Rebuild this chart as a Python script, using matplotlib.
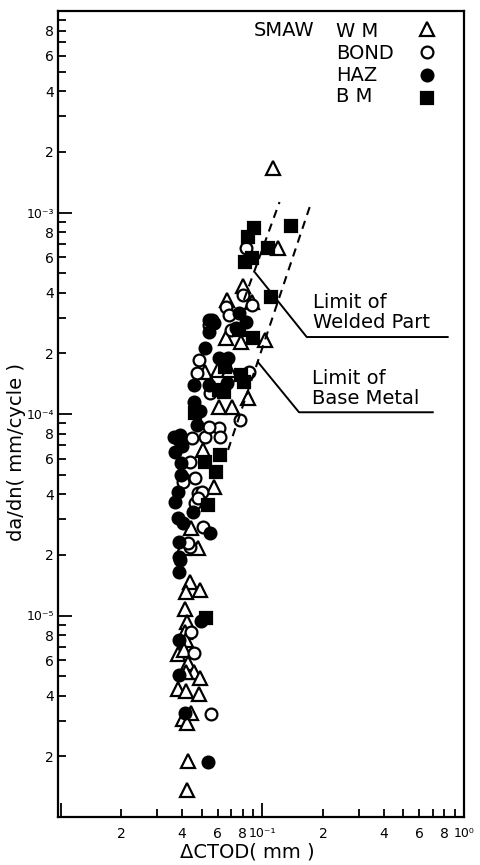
import numpy as np
import matplotlib
matplotlib.use('Agg')
import matplotlib.pyplot as plt
from matplotlib.ticker import LogLocator, FuncFormatter

plt.rcParams['font.family'] = ['DejaVu Sans']

# SMAW weld metal (open triangles)
wm_x = [0.113, 0.120, 0.080, 0.0666, 0.0893, 0.066, 0.078, 0.103, 0.0518, 0.0606,
        0.0687, 0.0853, 0.0609, 0.0705, 0.0510, 0.0578, 0.0444, 0.0480, 0.0405, 0.0440,
        0.0420, 0.0493, 0.0412, 0.0421, 0.0413, 0.0418, 0.0383, 0.0410, 0.0428, 0.0459,
        0.0419, 0.0491, 0.0383, 0.0419, 0.0486, 0.0444, 0.0402, 0.0425, 0.0427, 0.0423]
wm_y = [1.66e-3, 6.7e-4, 4.32e-4, 3.68e-4, 3.60e-4, 2.38e-4, 2.28e-4, 2.33e-4, 1.62e-4, 1.65e-4,
        1.65e-4, 1.20e-4, 1.08e-4, 1.08e-4, 6.63e-5, 4.35e-5, 2.72e-5, 2.16e-5, 2.16e-5, 1.47e-5,
        1.31e-5, 1.34e-5, 1.08e-5, 9.3e-6, 8.28e-6, 7.55e-6, 6.44e-6, 6.75e-6, 5.81e-6, 5.25e-6,
        5.25e-6, 4.9e-6, 4.32e-6, 4.22e-6, 4.08e-6, 3.28e-6, 3.06e-6, 2.92e-6, 1.90e-6, 1.36e-6]

# bond (open circles)
bond_x = [0.0831, 0.0798, 0.0659, 0.0893, 0.0564, 0.0546, 0.0684, 0.0700, 0.0483, 0.0474,
          0.0860, 0.0549, 0.0771, 0.0609, 0.0520, 0.0617, 0.0450, 0.0543, 0.0440, 0.0403,
          0.0466, 0.0478, 0.0505, 0.0403, 0.0462, 0.0478, 0.0506, 0.0439, 0.0429, 0.0444,
          0.0458, 0.0556]
bond_y = [6.67e-4, 3.90e-4, 3.40e-4, 3.48e-4, 2.93e-4, 2.77e-4, 3.10e-4, 2.61e-4, 1.85e-4, 1.60e-4,
          1.62e-4, 1.27e-4, 9.33e-5, 8.52e-5, 7.69e-5, 7.69e-5, 7.60e-5, 8.61e-5, 5.78e-5, 4.81e-5,
          4.81e-5, 4.06e-5, 4.10e-5, 4.60e-5, 3.62e-5, 3.83e-5, 2.75e-5, 2.19e-5, 2.29e-5, 8.28e-6,
          6.52e-6, 3.24e-6]

# HAZ (filled circles)
haz_x = [0.0545, 0.0764, 0.0828, 0.0741, 0.0546, 0.0517, 0.0613, 0.0679, 0.0577, 0.0460,
         0.0545, 0.0668, 0.0459, 0.0491, 0.0476, 0.0392, 0.0388, 0.0366, 0.0368, 0.0394,
         0.0394, 0.0382, 0.0369, 0.0452, 0.0383, 0.0404, 0.0549, 0.0384, 0.0392, 0.0384,
         0.0385, 0.0494, 0.0387, 0.0388, 0.0412, 0.0535, 0.0401]
haz_y = [2.93e-4, 3.17e-4, 2.86e-4, 2.67e-4, 2.55e-4, 2.13e-4, 1.90e-4, 1.90e-4, 2.83e-4, 1.39e-4,
         1.39e-4, 1.43e-4, 1.15e-4, 1.04e-4, 8.81e-5, 7.87e-5, 7.4e-5, 7.69e-5, 6.48e-5, 5.71e-5,
         4.98e-5, 4.10e-5, 3.66e-5, 3.26e-5, 3.05e-5, 2.88e-5, 2.57e-5, 2.32e-5, 1.89e-5, 1.95e-5,
         1.64e-5, 9.4e-6, 7.55e-6, 5.07e-6, 3.28e-6, 1.87e-6, 6.9e-5]

# base metal (filled squares)
bm_x = [0.0905, 0.0852, 0.0822, 0.0891, 0.107, 0.139, 0.111, 0.0765, 0.0900, 0.0650,
        0.0786, 0.0814, 0.0643, 0.0607, 0.0464, 0.0618, 0.0517, 0.0590, 0.0535, 0.0523]
bm_y = [8.38e-4, 7.6e-4, 5.68e-4, 5.94e-4, 6.67e-4, 8.57e-4, 3.81e-4, 2.61e-4, 2.38e-4, 1.71e-4,
        1.56e-4, 1.44e-4, 1.29e-4, 1.32e-4, 1.01e-4, 6.26e-5, 5.78e-5, 5.15e-5, 3.53e-5, 9.7e-6]

legend_labels = ['W M', 'BOND', 'HAZ', 'B M']

# limit lines and leaders
welded_x = [0.081, 0.1217]
welded_y = [3.68e-4, 1.127e-3]
base_x = [0.0676, 0.175]
base_y = [6.63e-5, 1.127e-3]
lead1_x = [0.0924, 0.166, 0.83]
lead1_y = [5.01e-4, 2.41e-4, 2.41e-4]
lead2_x = [0.0951, 0.152, 0.70]
lead2_y = [1.81e-4, 1.02e-4, 1.02e-4]

sup = str.maketrans('-0123456789', '⁻⁰¹²³⁴⁵⁶⁷⁸⁹')

fig = plt.figure(figsize=(4.81, 8.65), dpi=100)
ax = fig.add_axes([58 / 481, 48 / 865, 406 / 481, 806 / 865])

mk = dict(ls='none', mec='black', mew=1.6)
h_wm, = ax.plot(wm_x, wm_y, '^', ms=9.5, mfc='white', **mk)
h_bond, = ax.plot(bond_x, bond_y, 'o', ms=8.5, mfc='white', **mk)
h_haz, = ax.plot(haz_x, haz_y, 'o', ms=8.5, mfc='black', **mk)
h_bm, = ax.plot(bm_x, bm_y, 's', ms=8, mfc='black', **mk)

ax.plot(welded_x, welded_y, color='black', lw=1.5, ls=(0, (4, 3)))
ax.plot(base_x, base_y, color='black', lw=1.5, ls=(0, (4, 3)))
ax.plot(lead1_x, lead1_y, color='black', lw=1.4)
ax.plot(lead2_x, lead2_y, color='black', lw=1.4)

ax.set_xscale('log')
ax.set_yscale('log')
ax.set_xlim(0.0097, 1.0)
ax.set_ylim(1e-6, 1e-2)


def fmt(v, pos):
    e = int(np.floor(np.log10(v) + 1e-9))
    m = int(round(v / 10.0 ** e))
    if m == 1:
        if e in (-2, -6):
            return ''
        return '10' + str(e).translate(sup)
    if m in (2, 4, 6, 8):
        return str(m)
    return ''


for axis in (ax.xaxis, ax.yaxis):
    axis.set_major_locator(LogLocator(base=10, subs=(1.0,), numticks=20))
    axis.set_minor_locator(LogLocator(base=10, subs=np.arange(2, 10), numticks=20))
    axis.set_major_formatter(FuncFormatter(fmt))
    axis.set_minor_formatter(FuncFormatter(fmt))

ax.tick_params(which='both', direction='in', top=False, right=False, width=1.3)
ax.tick_params(which='major', length=10, labelsize=9)
ax.tick_params(which='minor', length=5.5, labelsize=10)
ax.tick_params(axis='x', which='both', pad=7)
ax.tick_params(axis='y', which='both', pad=3)
for s in ax.spines.values():
    s.set_linewidth(1.6)

ax.set_ylabel('da/dn( mm/cycle )', fontsize=14)
ax.yaxis.set_label_coords(-0.08, 0.453)
ax.set_xlabel('ΔCTOD( mm )', fontsize=14)
ax.xaxis.set_label_coords(0.4655, -0.032)

# legend: markers from the library, names as a left-aligned text block
ax.legend(handles=[h_wm, h_bond, h_haz, h_bm], labels=[''] * 4, loc='upper right',
          bbox_to_anchor=(0.933, 0.988), frameon=False, markerfirst=False, fontsize=14,
          borderpad=0, borderaxespad=0, handlelength=1.0, handletextpad=0, labelspacing=0.2)
ax.text(0.685, 0.934, '\n'.join(legend_labels), transform=ax.transAxes, fontsize=14,
        va='center', ha='left', linespacing=1.19)
ax.text(0.483, 0.976, 'SMAW', transform=ax.transAxes, fontsize=14, va='center', ha='left')

ax.text(0.628, 0.626, 'Limit of\nWelded Part', transform=ax.transAxes, fontsize=14,
        va='center', ha='left', linespacing=1.05)
ax.text(0.625, 0.532, 'Limit of\nBase Metal', transform=ax.transAxes, fontsize=14,
        va='center', ha='left', linespacing=1.05)

fig.savefig('out.png', dpi=100)
